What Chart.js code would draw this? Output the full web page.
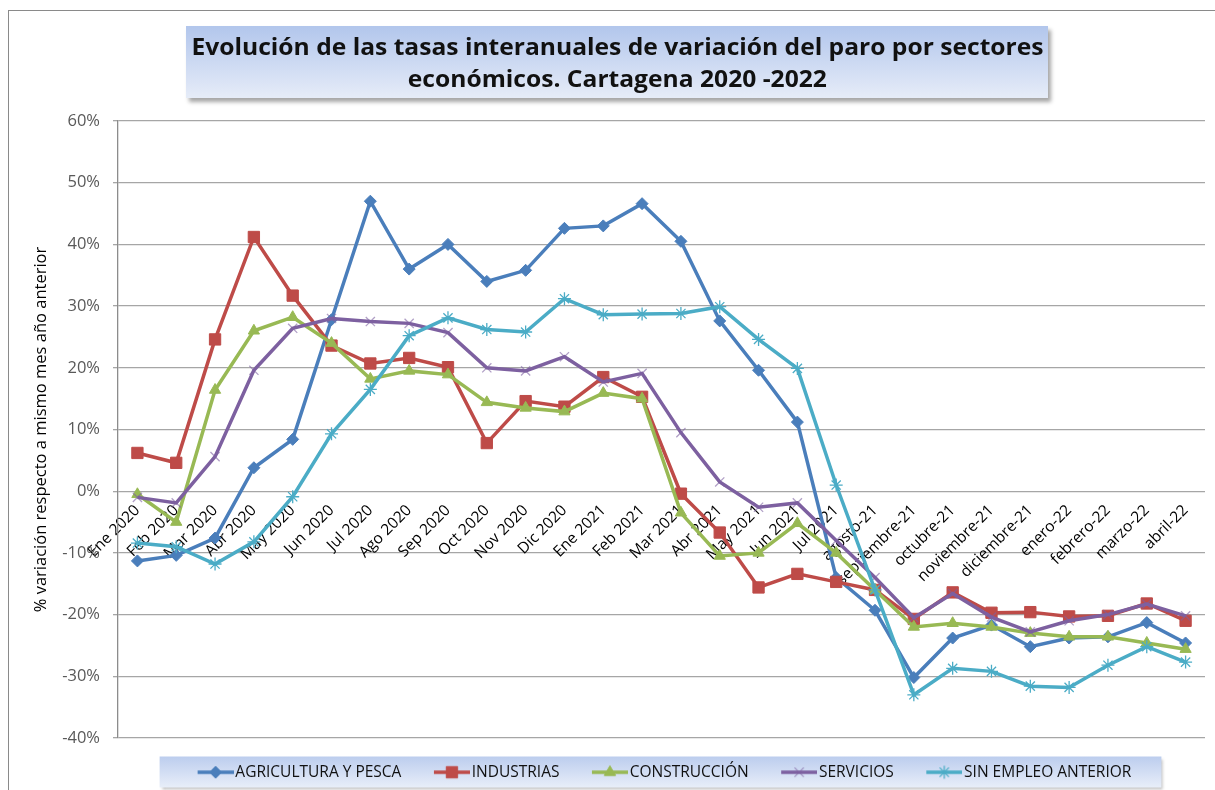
<!DOCTYPE html>
<html lang="es">
<head>
<meta charset="utf-8">
<title>Evolución de las tasas interanuales de variación del paro</title>
<script src="https://cdn.jsdelivr.net/npm/chart.js@4.4.1/dist/chart.umd.min.js"></script>
<style>
  html, body { margin: 0; padding: 0; background: #fff; }
  #wrap { position: relative; width: 1215px; height: 790px; overflow: hidden; }
  #frame { position: absolute; left: 8px; top: 10px; right: -4px; bottom: -4px;
    border-top: 1px solid #8a8a8a; border-left: 1px solid #8a8a8a; }
  #grafico { position: absolute; left: 0; top: 0; }
  #titulo { position: absolute; left: 186px; top: 26px; width: 862px; height: 72px;
    background: linear-gradient(#b2c6ec, #e6ecf8);
    box-shadow: 3px 4px 4px rgba(0, 0, 0, 0.35);
    display: flex; flex-direction: column; align-items: center; justify-content: center;
    font-family: 'Open Sans', sans-serif; font-weight: bold; font-size: 24px; line-height: 32px; color: #111; }
  #titulo span { display: block; white-space: nowrap; }
</style>
</head>
<body>
<div id="wrap">
  <div id="frame"></div>
  <canvas id="grafico" width="1215" height="790"></canvas>
  <div id="titulo">
    <span>Evolución de las tasas interanuales de variación del paro por sectores</span>
    <span>económicos. Cartagena 2020 -2022</span>
  </div>
</div>
<script>
// datos (% variacion interanual)
const meses = ['Ene 2020', 'Feb 2020', 'Mar 2020', 'Abr 2020', 'May 2020', 'Jun 2020',
  'Jul 2020', 'Ago 2020', 'Sep 2020', 'Oct 2020', 'Nov 2020', 'Dic 2020',
  'Ene 2021', 'Feb 2021', 'Mar 2021', 'Abr 2021', 'May 2021', 'Jun 2021', 'Jul 2021',
  'agosto-21', 'septiembre-21', 'octubre-21', 'noviembre-21', 'diciembre-21',
  'enero-22', 'febrero-22', 'marzo-22', 'abril-22'];

const agricultura = [-11.3, -10.4, -7.6, 3.8, 8.4, 27.8, 47.0, 36.0, 40.0, 34.0, 35.8, 42.6,
  43.0, 46.6, 40.5, 27.6, 19.6, 11.2, -14.0, -19.3, -30.2, -23.8, -21.7, -25.2,
  -23.8, -23.6, -21.3, -24.6];
const industrias = [6.2, 4.6, 24.6, 41.2, 31.7, 23.6, 20.7, 21.6, 20.1, 7.8, 14.6, 13.7,
  18.5, 15.3, -0.4, -6.7, -15.6, -13.4, -14.7, -16.0, -20.7, -16.4, -19.7, -19.6,
  -20.3, -20.2, -18.2, -21.0];
const construccion = [-0.5, -5.0, 16.4, 26.0, 28.2, 24.0, 18.2, 19.5, 18.9, 14.4, 13.5, 12.9,
  15.9, 15.0, -3.5, -10.5, -10.0, -5.2, -10.0, -16.0, -22.0, -21.4, -22.0, -23.0,
  -23.6, -23.6, -24.6, -25.6];
const servicios = [-1.0, -1.9, 5.6, 19.6, 26.4, 28.0, 27.5, 27.2, 25.7, 20.0, 19.5, 21.8,
  17.7, 19.1, 9.5, 1.5, -2.6, -1.9, -8.0, -14.0, -20.5, -16.6, -20.4, -22.8,
  -21.0, -20.0, -18.3, -20.2];
const sinEmpleo = [-8.4, -9.0, -11.8, -8.2, -0.9, 9.3, 16.5, 25.2, 28.1, 26.2, 25.8, 31.2,
  28.6, 28.7, 28.8, 29.9, 24.6, 19.9, 1.0, -16.0, -33.0, -28.7, -29.2, -31.6,
  -31.8, -28.2, -25.2, -27.7];

const ticksY = [-40, -30, -20, -10, 0, 10, 20, 30, 40, 50, 60];

// ajustar el ancho del titulo (Calibri no esta disponible)
(function() {
  const g = document.createElement('canvas').getContext('2d');
  g.font = 'bold 24px "Open Sans"';
  const spans = document.querySelectorAll('#titulo span');
  const k = 852 / g.measureText(spans[0].textContent).width;
  spans.forEach(s => { s.style.transform = 'scaleX(' + k + ')'; });
})();

function serie(label, data, color, style, radius, markColor, markWidth, orden) {
  return {
    label: label,
    data: data,
    borderColor: color,
    backgroundColor: color,
    borderWidth: 3.5,
    tension: 0,
    pointStyle: style,
    pointRadius: radius,
    pointHoverRadius: radius,
    pointBackgroundColor: markColor,
    pointBorderColor: markColor,
    pointBorderWidth: markWidth,
    order: orden
  };
}

const datasets = [
  serie('AGRICULTURA Y PESCA', agricultura, '#4a7ebb', 'rectRot', 6, '#4a7ebb', 1, 5),
  serie('INDUSTRIAS', industrias, '#be4b48', 'rect', 8, '#be4b48', 1, 4),
  serie('CONSTRUCCIÓN', construccion, '#98b954', 'triangle', 6.5, '#98b954', 1, 3),
  serie('SERVICIOS', servicios, '#7d60a0', 'crossRot', 6.5, 'rgba(125,96,160,0.6)', 1.3, 2),
  serie('SIN EMPLEO ANTERIOR', sinEmpleo, '#4bacc6', 'star', 6.5, '#4bacc6', 1.3, 1)
];

// simbolo de leyenda: linea con marcador en medio
function simbolo(ds) {
  const c = document.createElement('canvas');
  c.width = 48; c.height = 18;
  const g = c.getContext('2d');
  g.strokeStyle = ds.borderColor;
  g.lineWidth = 3.5;
  g.beginPath(); g.moveTo(12, 9); g.lineTo(48, 9); g.stroke();
  g.fillStyle = ds.pointBackgroundColor;
  g.strokeStyle = ds.pointBorderColor;
  g.lineWidth = ds.pointBorderWidth;
  Chart.helpers.drawPoint(g, {pointStyle: ds.pointStyle, radius: ds.pointRadius, borderWidth: ds.pointBorderWidth}, 30, 9);
  return c;
}
const simbolos = datasets.map(simbolo);

const fondoLeyenda = {
  id: 'fondoLeyenda',
  beforeDraw(chart) {
    const hb = chart.legend && chart.legend.legendHitBoxes;
    if (!hb || !hb.length) return;
    const ctx = chart.ctx;
    const last = hb[hb.length - 1];
    const x0 = hb[0].left - 32, x1 = last.left + last.width + 30;
    const y0 = hb[0].top - 8, h = 31;
    ctx.save();
    ctx.shadowColor = 'rgba(0,0,0,0.25)';
    ctx.shadowOffsetX = 2; ctx.shadowOffsetY = 2; ctx.shadowBlur = 3;
    const gr = ctx.createLinearGradient(0, y0, 0, y0 + h);
    gr.addColorStop(0, '#bccdee');
    gr.addColorStop(1, '#e8eef9');
    ctx.fillStyle = gr;
    ctx.fillRect(x0, y0, x1 - x0, h);
    ctx.restore();
  }
};

const ctx = document.getElementById('grafico').getContext('2d');
new Chart(ctx, {
  type: 'line',
  data: { labels: meses, datasets: datasets },
  plugins: [fondoLeyenda],
  options: {
    responsive: false,
    animation: false,
    layout: { padding: { left: 10, top: 121, right: 10, bottom: 0 } },
    plugins: {
      tooltip: { enabled: false },
      legend: {
        position: 'bottom',
        fullSize: false,
        labels: {
          usePointStyle: true,
          pointStyleWidth: 36,
          padding: 26.5,
          color: '#111',
          font: { family: 'Open Sans', size: 15.5 },
          sort: (a, b) => a.datasetIndex - b.datasetIndex,
          generateLabels(chart) {
            const items = Chart.defaults.plugins.legend.labels.generateLabels(chart);
            items.forEach(it => { it.pointStyle = simbolos[it.datasetIndex]; });
            return items;
          }
        }
      }
    },
    scales: {
      x: {
        type: 'category',
        offset: true,
        position: { y: 0 },
        grid: { display: false, drawTicks: false },
        border: { display: false },
        ticks: {
          autoSkip: false,
          minRotation: 45,
          maxRotation: 45,
          padding: 10,
          color: '#000',
          font: { family: 'Open Sans', size: 15.5 }
        }
      },
      y: {
        min: -40,
        max: 60,
        afterBuildTicks(s) { s.ticks = ticksY.map(v => ({ value: v })); },
        afterFit(s) { s.width = 108; },
        grid: { color: '#a6a6a6', lineWidth: 1.3, tickLength: 5 },
        border: { color: '#8c8c8c', width: 1.3 },
        ticks: {
          padding: 13,
          color: '#595959',
          font: { family: 'Open Sans', size: 16.5 },
          callback: v => v + '%'
        },
        title: {
          display: true,
          text: '% variación respecto a mismo mes año anterior',
          color: '#000',
          font: { family: 'Open Sans', size: 16.5 },
          padding: { top: 21, bottom: 0 }
        }
      }
    }
  }
});
</script>
</body>
</html>
